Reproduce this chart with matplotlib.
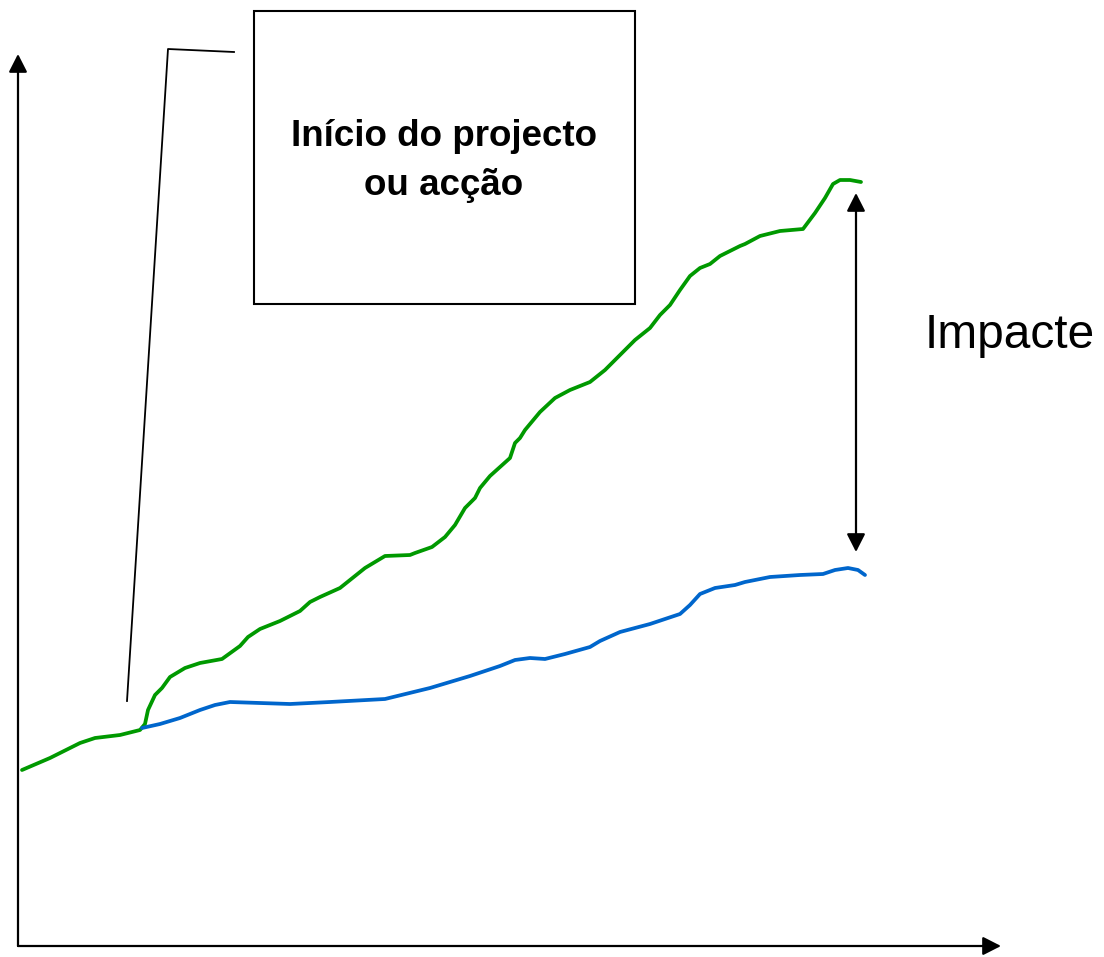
import matplotlib.pyplot as plt
from matplotlib.patches import Rectangle

plt.rcParams['font.family'] = ['Liberation Sans', 'DejaVu Sans']

# curve values (pixel units, y grows downwards)
green_x = [22, 50, 80, 95, 120, 140, 145, 148, 155, 162, 170, 185, 200, 222, 240,
           248, 260, 280, 300, 310, 320, 340, 355, 365, 375, 385, 410, 415, 432,
           445, 455, 465, 475, 480, 490, 500, 510, 515, 520, 525, 540, 555, 570,
           590, 605, 620, 635, 650, 660, 670, 680, 690, 700, 710, 720, 740, 745,
           760, 780, 803, 815, 825, 833, 840, 850, 861]
green_y = [770, 758, 743, 738, 735, 730, 724, 710, 695, 688, 677, 668, 663, 659, 646,
           637, 629, 621, 611, 602, 597, 588, 576, 568, 562, 556, 555, 553, 547,
           537, 525, 508, 498, 488, 476, 467, 458, 443, 438, 430, 412, 398, 390,
           382, 370, 355, 340, 328, 315, 305, 290, 276, 268, 264, 256, 246, 244,
           236, 231, 229, 213, 198, 184, 180, 180, 182]

blue_x = [142, 160, 180, 200, 215, 230, 260, 290, 330, 385, 430, 470, 500, 515,
          530, 545, 565, 590, 600, 620, 650, 680, 690, 700, 715, 735, 745, 770,
          800, 823, 835, 848, 858, 865]
blue_y = [728, 724, 718, 710, 705, 702, 703, 704, 702, 699, 688, 676, 666, 660,
          658, 659, 654, 647, 641, 632, 624, 614, 605, 594, 588, 585, 582, 577,
          575, 574, 570, 568, 570, 575]

callout_x = [127, 168, 234]
callout_y = [701, 49, 52]

box_label = 'Início do projecto\nou acção'
impact_label = 'Impacte'

fig = plt.figure(figsize=(11.04, 9.57), dpi=100)
ax = fig.add_axes([0, 0, 1, 1])
ax.set_xlim(0, 1104)
ax.set_ylim(957, 0)
ax.axis('off')

arrow = dict(arrowstyle='-|>,head_length=0.55,head_width=0.28', color='black',
             lw=1.6, mutation_scale=20, shrinkA=0, shrinkB=0)

# axes
ax.annotate('', xy=(18, 54), xytext=(18, 946), arrowprops=arrow)
ax.annotate('', xy=(1001, 946), xytext=(18, 946), arrowprops=arrow)

# curves
ax.plot(green_x, green_y, color='#009900', lw=2.7, solid_joinstyle='round',
        solid_capstyle='round')
ax.plot(blue_x, blue_y, color='#0066cc', lw=2.7, solid_joinstyle='round',
        solid_capstyle='round')

# callout and box
ax.plot(callout_x, callout_y, color='black', lw=1.3)
ax.add_patch(Rectangle((254, 11), 381, 293, fill=False, ec='black', lw=1.5))
ax.text(444, 161, box_label, ha='center', va='center', fontsize=26.5,
        fontweight='bold', linespacing=1.5)

# impact double arrow
ax.annotate('', xy=(856, 193), xytext=(856, 552),
            arrowprops=dict(arrowstyle='<|-|>,head_length=0.55,head_width=0.28',
                            color='black', lw=1.6, mutation_scale=20,
                            shrinkA=0, shrinkB=0))
ax.text(1010, 335, impact_label, ha='center', va='center', fontsize=34.5)

fig.savefig('out.png', dpi=100)
